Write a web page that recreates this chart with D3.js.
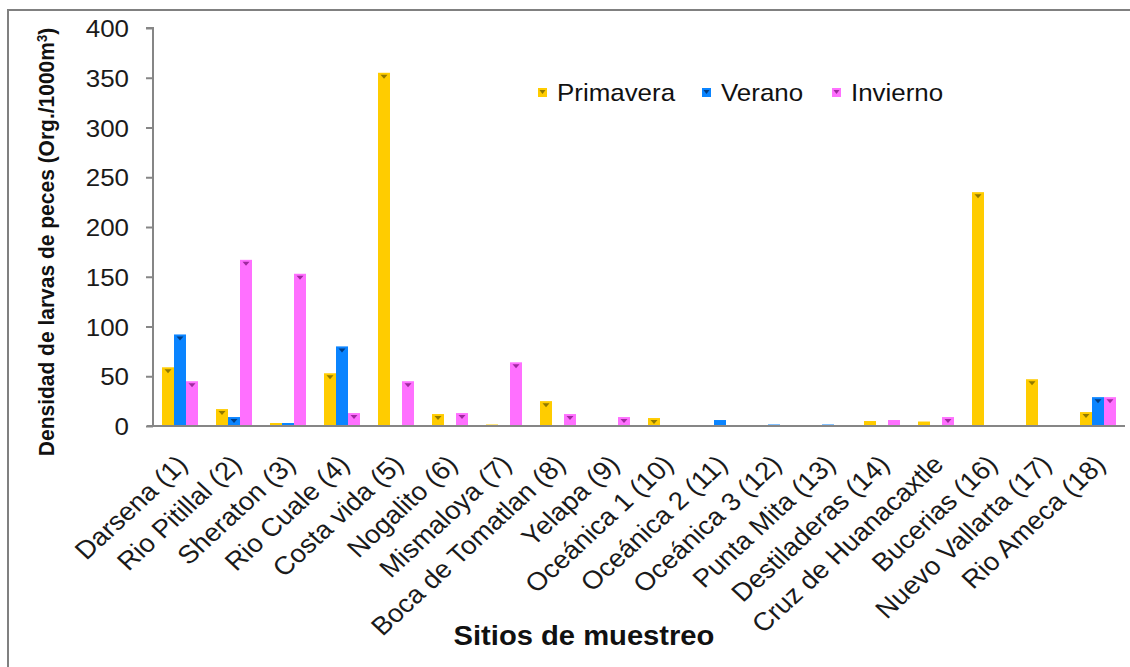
<!DOCTYPE html>
<html>
<head>
<meta charset="utf-8">
<script src="https://cdn.jsdelivr.net/npm/d3@7"></script>
<style>
  html, body { margin: 0; padding: 0; background: #fff; }
  svg { display: block; font-family: "Liberation Sans", Arial, sans-serif; }
</style>
</head>
<body>
<svg id="chart" width="1130" height="667"></svg>
<script>
// Sampling sites along the bay
const sites = [
  "Darsena (1)", "Rio Pitillal (2)", "Sheraton (3)", "Rio Cuale (4)", "Costa vida (5)",
  "Nogalito (6)", "Mismaloya (7)", "Boca de Tomatlan (8)", "Yelapa (9)", "Oceánica 1 (10)",
  "Oceánica 2 (11)", "Oceánica 3 (12)", "Punta Mita (13)", "Destiladeras (14)",
  "Cruz de Huanacaxtle", "Bucerias (16)", "Nuevo Vallarta (17)", "Rio Ameca (18)"
];

// Fish larvae density (Org./1000 m3) per season
const primavera = [59, 17, 3, 53, 355, 12, 1.5, 25, 0, 8, 1, 0, 0, 5, 4.5, 235, 47, 14];
const verano    = [92, 9, 3, 80, 0, 0, 0, 0, 0, 0, 6, 1.5, 1.5, 0, 0, 0, 0, 29];
const invierno  = [45, 167, 153, 13, 45, 13, 64, 12, 9, 0, 0, 1, 1, 6, 9, 0, 0, 29];

const seasons = ["Primavera", "Verano", "Invierno"];
const yTicks = [0, 50, 100, 150, 200, 250, 300, 350, 400];

const colors = { Primavera: "#FFCC00", Verano: "#0A84FF", Invierno: "#FF70FF" };
const capColors = { Primavera: "#7d6a00", Verano: "#00306e", Invierno: "#8e1c8e" };

// Horizontal stretch factor for the whole drawing
const K = 1.08;
const sx = v => v / K;

const svg = d3.select("#chart");

// outer frame
svg.append("rect")
  .attr("x", 8).attr("y", 10).attr("width", 1140).attr("height", 700)
  .attr("fill", "none").attr("stroke", "#808080").attr("stroke-width", 2);

const g = svg.append("g").attr("transform", `scale(${K},1)`);

const plotLeft = 153, plotRight = 1125, plotTop = 28, plotBottom = 426;

const x0 = d3.scaleBand().domain(sites).range([sx(plotLeft), sx(plotRight)]).padding(0);
const bw = x0.bandwidth();
const x1 = d3.scaleBand().domain(seasons).range([bw / 6, bw * 5 / 6]).padding(0);
const y = d3.scaleLinear().domain([0, 400]).range([plotBottom, plotTop]);

const rows = sites.map((s, i) => ({
  site: s,
  values: [
    { key: "Primavera", v: primavera[i] },
    { key: "Verano", v: verano[i] },
    { key: "Invierno", v: invierno[i] }
  ]
}));

// bars
const grp = g.append("g").selectAll("g").data(rows).join("g")
  .attr("transform", d => `translate(${x0(d.site)},0)`);

grp.selectAll("rect").data(d => d.values.filter(v => v.v > 0)).join("rect")
  .attr("x", d => x1(d.key))
  .attr("y", d => y(d.v))
  .attr("width", x1.bandwidth())
  .attr("height", d => y(0) - y(d.v))
  .attr("fill", d => colors[d.key]);

// small error-bar caps at bar tops
grp.selectAll("path.cap").data(d => d.values.filter(v => y(0) - y(v.v) >= 7)).join("path")
  .attr("class", "cap")
  .attr("d", d => {
    const cx = x1(d.key) + x1.bandwidth() / 2;
    const t = y(d.v) + 2;
    const w = sx(3.5);
    return `M${cx - w},${t} L${cx + w},${t} L${cx},${t + 4} Z`;
  })
  .attr("fill", d => capColors[d.key])
  .attr("opacity", 0.85);

// y axis
const yAxis = d3.axisLeft(y).tickValues(yTicks).tickSize(sx(7)).tickPadding(0).tickFormat(d3.format("d"));
const ya = g.append("g").attr("transform", `translate(${sx(plotLeft)},0)`).call(yAxis);
ya.selectAll("path, line").attr("stroke", "#868686").attr("stroke-width", 2).attr("vector-effect", "non-scaling-stroke");
ya.select("path").attr("d", `M${-sx(7)},${plotTop}H0V${plotBottom}`);
ya.selectAll("text")
  .attr("x", -sx(153 - 129))
  .attr("dy", "0.36em")
  .attr("font-size", 24)
  .attr("fill", "#1a1a1a")
  .attr("font-family", "Liberation Sans, Arial, sans-serif");

// x axis baseline
const xAxis = d3.axisBottom(x0).tickSize(0).tickFormat("");
const xa = g.append("g").attr("transform", `translate(0,${plotBottom})`).call(xAxis);
xa.select("path").attr("stroke", "#868686").attr("stroke-width", 2).attr("vector-effect", "non-scaling-stroke")
  .attr("d", `M${sx(plotLeft - 6)},0H${sx(plotRight)}`);

// rotated site labels
g.append("g").selectAll("text").data(sites).join("text")
  .attr("transform", d => `translate(${x0(d) + bw / 2 + sx(9)},${plotBottom + 40}) rotate(-45)`)
  .attr("text-anchor", "end")
  .attr("font-size", 25.5)
  .attr("fill", "#1a1a1a")
  .text(d => d);

// axis titles
g.append("text")
  .attr("x", sx(584)).attr("y", 645)
  .attr("text-anchor", "middle")
  .attr("font-size", 27).attr("font-weight", "bold").attr("fill", "#111")
  .text("Sitios de muestreo");

const yt = g.append("text")
  .attr("transform", `translate(${sx(54)},242) rotate(-90)`)
  .attr("text-anchor", "middle")
  .attr("font-size", 21).attr("font-weight", "bold").attr("fill", "#111");
yt.append("tspan").text("Densidad de larvas de peces (Org./1000m");
yt.append("tspan").attr("baseline-shift", "super").attr("font-size", 13).text("3");
yt.append("tspan").text(")");

// legend
const legendX = [538, 702, 832];
const lg = g.append("g").selectAll("g").data(seasons).join("g")
  .attr("transform", (d, i) => `translate(${sx(legendX[i])},0)`);
lg.append("rect").attr("x", 0).attr("y", 88).attr("width", sx(9)).attr("height", 9)
  .attr("fill", d => colors[d]);
lg.append("path")
  .attr("d", `M${sx(1.5)},90 L${sx(7.5)},90 L${sx(4.5)},94 Z`)
  .attr("fill", d => capColors[d]).attr("opacity", 0.85);
lg.append("text").attr("x", sx(19)).attr("y", 101)
  .attr("font-size", 24).attr("fill", "#111")
  .text(d => d);
</script>
</body>
</html>
